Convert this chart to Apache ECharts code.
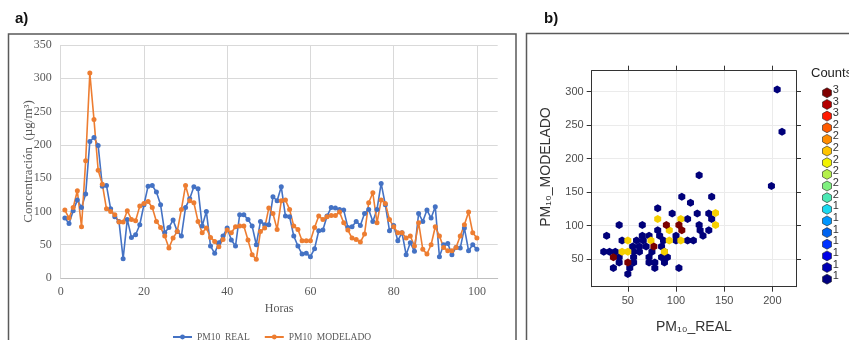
<!DOCTYPE html>
<html>
<head>
<meta charset="utf-8">
<script src="https://cdn.jsdelivr.net/npm/echarts@6/dist/echarts.min.js"></script>
<style>
    html, body {margin: 0; padding: 0; background: #fff;}
    #main {width: 849px; height: 340px;}
</style>
</head>
<body>
<div id="main"></div>
<script>
// panel a) hourly series (hour = index + 1)
var pm10Real = [90, 82, 101, 117, 106, 126, 205, 211, 199, 138,
    139, 104, 92, 85, 29, 88, 61, 65, 80, 110,
    138, 139, 129, 110, 68, 76, 87, 70, 63, 106,
    119, 137, 134, 78, 100, 48, 37, 53, 63, 75,
    57, 48, 95, 95, 88, 78, 50, 85, 80, 80,
    122, 116, 137, 93, 92, 63, 48, 36, 37, 32,
    44, 71, 72, 93, 106, 105, 103, 102, 76, 77,
    85, 79, 97, 103, 85, 103, 142, 110, 71, 79,
    56, 68, 35, 53, 40, 97, 85, 102, 90, 107,
    32, 50, 52, 35, 46, 45, 75, 41, 50, 43];
var pm10Modelado = [102, 90, 106, 131, 77, 176, 308, 238, 162, 141,
    104, 100, 95, 84, 84, 101, 88, 86, 108, 112,
    115, 106, 85, 76, 63, 45, 60, 70, 103, 139,
    116, 113, 85, 68, 75, 61, 55, 47, 58, 72,
    68, 77, 78, 78, 57, 35, 28, 70, 75, 105,
    97, 73, 116, 117, 103, 78, 73, 56, 56, 56,
    76, 93, 88, 92, 94, 94, 99, 83, 72, 60,
    58, 54, 66, 113, 128, 83, 117, 112, 88, 77,
    68, 68, 60, 63, 48, 83, 43, 36, 50, 77,
    63, 46, 41, 41, 46, 63, 80, 99, 68, 60];
var hourTicks = [0, 20, 40, 60, 80, 100];

// panel b) hexbin cells: [PM10_REAL, PM10_MODELADO, count]
var hexCells = [
    [124, 175, 1], [199, 159, 1], [106, 143, 1], [137, 143, 1], [115, 134, 1], [81, 126, 1],
    [96, 118, 1], [122, 118, 1], [134, 118, 1], [112, 110, 1], [137, 110, 1], [41, 101, 1],
    [65, 101, 1], [124, 101, 1], [81, 93, 1], [125, 93, 1], [134, 93, 1], [28, 85, 1],
    [65, 85, 1], [72, 85, 1], [83, 85, 1], [100, 85, 1], [128, 85, 1], [44, 78, 1],
    [59, 78, 1], [66, 78, 1], [87, 78, 1], [100, 78, 1], [112, 78, 1], [118, 78, 1],
    [55, 69, 1], [62, 69, 1], [69, 69, 1], [85, 69, 1], [25, 61, 1], [31, 61, 1],
    [37, 61, 1], [56, 61, 1], [62, 61, 1], [75, 61, 1], [88, 61, 1], [41, 53, 1],
    [56, 53, 1], [72, 53, 1], [85, 53, 1], [91, 53, 1], [41, 45, 1], [56, 45, 1],
    [72, 45, 1], [78, 45, 1], [88, 45, 1], [35, 37, 1], [52, 37, 1], [78, 37, 1],
    [103, 37, 1], [50, 28, 1], [205, 303, 1], [210, 240, 1],
    [141, 119, 2], [81, 110, 2], [105, 110, 2], [141, 101, 2], [93, 93, 2], [50, 78, 2],
    [74, 78, 2], [93, 78, 2], [105, 78, 2], [44, 61, 2], [50, 61, 2], [88, 61, 2],
    [90, 101, 3], [103, 101, 3], [106, 93, 3], [77, 69, 3], [35, 53, 3], [50, 45, 3]
];
var hexColors = {1: '#00007a', 2: '#f5cf00', 3: '#7a0000'};
var realTicks = [50, 100, 150, 200];
var modTicks = [50, 100, 150, 200, 250, 300];

// Counts key
var countLabels = ['3', '3', '3', '2', '2', '2', '2', '2', '2', '2', '1', '1', '1', '1', '1', '1', '1'];
var countColors = ['#7f0000', '#b30000', '#ff1a00', '#ff5a00', '#ff8c00', '#ffc400', '#f2f200', '#b4f04b',
    '#7ff07f', '#4be8b4', '#1ad9f0', '#0096ff', '#0064f0', '#0032ff', '#0000e6', '#0000b4', '#000080'];

var hexPath = 'path://M0,-1L0.866,-0.5L0.866,0.5L0,1L-0.866,0.5L-0.866,-0.5Z';

var chart = echarts.init(document.getElementById('main'), null, {renderer: 'canvas'});

var serif = "'Liberation Serif', 'Times New Roman', serif";
var sans = "'Liberation Sans', Arial, sans-serif";

var realPoints = pm10Real.map(function (v, i) { return [i + 1, v]; });
var modPoints = pm10Modelado.map(function (v, i) { return [i + 1, v]; });

var keyPoints = countLabels.map(function (l, i) { return [0, i, l]; });

chart.setOption({
    animation: false,
    backgroundColor: '#fff',
    graphic: [
        {type: 'rect', shape: {x: 8.5, y: 34, width: 507.5, height: 330}, style: {fill: 'none', stroke: '#5a5a5a', lineWidth: 1.5}},
        {type: 'rect', shape: {x: 526.5, y: 33.5, width: 340, height: 330}, style: {fill: 'none', stroke: '#5a5a5a', lineWidth: 1.5}},
        {type: 'text', left: 15, top: 11, style: {text: 'a)', font: 'bold 15px ' + sans, fill: '#111'}},
        {type: 'text', left: 544, top: 11, style: {text: 'b)', font: 'bold 15px ' + sans, fill: '#111'}},
        {type: 'text', left: 811, top: 67, style: {text: 'Counts', font: '13px ' + sans, fill: '#222'}},
        {type: 'text', x: 546, y: 167, rotation: Math.PI / 2,
            style: {text: 'PM₁₀_MODELADO', font: '14px ' + sans, fill: '#333', align: 'center', verticalAlign: 'middle'}}
    ],
    legend: {
        data: ['PM10_REAL', 'PM10_MODELADO'],
        left: 167, top: 325,
        itemWidth: 19, itemHeight: 6, itemGap: 14,
        textStyle: {fontFamily: serif, fontSize: 9.5, lineHeight: 14, color: '#595959'}
    },
    grid: [
        {left: 60.7, top: 45, width: 437, height: 233},
        {left: 591.7, top: 70.7, width: 204.3, height: 216, show: false},
        {left: 816, top: 87, width: 22, height: 198}
    ],
    xAxis: [
        {
            gridIndex: 0, type: 'value', min: 0, max: 105,
            name: 'Horas', nameLocation: 'middle', nameGap: 23,
            nameTextStyle: {fontFamily: serif, fontSize: 12, color: '#595959'},
            axisLine: {show: true, lineStyle: {color: '#bfbfbf'}},
            axisTick: {show: false, customValues: hourTicks},
            axisLabel: {customValues: hourTicks, fontFamily: serif, fontSize: 12, color: '#595959', margin: 8},
            splitLine: {show: true, lineStyle: {color: '#d9d9d9'}}
        },
        {
            gridIndex: 1, type: 'value', min: 12.5, max: 224.5, position: 'bottom',
            name: 'PM₁₀_REAL', nameLocation: 'middle', nameGap: 33,
            nameTextStyle: {fontFamily: sans, fontSize: 14, color: '#333'},
            axisLine: {show: true, onZero: false, lineStyle: {color: '#333'}},
            axisTick: {show: true, inside: false, length: 5, customValues: realTicks, lineStyle: {color: '#333'}},
            axisLabel: {customValues: realTicks, fontFamily: sans, fontSize: 11, color: '#4d4d4d', margin: 9},
            splitLine: {show: true, lineStyle: {color: '#ebebeb'}}
        },
        {
            gridIndex: 1, type: 'value', min: 12.5, max: 224.5, position: 'top',
            axisLine: {show: true, onZero: false, lineStyle: {color: '#333'}},
            axisTick: {show: true, inside: false, length: 5, customValues: realTicks, lineStyle: {color: '#333', width: 1}},
            axisLabel: {show: false, customValues: realTicks},
            splitLine: {show: false}
        },
        {gridIndex: 2, type: 'value', min: -1, max: 1, show: false}
    ],
    yAxis: [
        {
            gridIndex: 0, type: 'value', min: 0, max: 350, interval: 50,
            name: 'Concentración  (µg/m³)', nameLocation: 'middle', nameGap: 26,
            nameMoveOverlap: false,
            nameTextStyle: {fontFamily: serif, fontSize: 13, color: '#595959'},
            axisLine: {show: false},
            axisTick: {show: false},
            axisLabel: {fontFamily: serif, fontSize: 12, color: '#595959', margin: 9},
            splitLine: {show: true, lineStyle: {color: '#d9d9d9'}}
        },
        {
            gridIndex: 1, type: 'value', min: 9, max: 331, position: 'left',
            axisLine: {show: true, onZero: false, lineStyle: {color: '#333'}},
            axisTick: {show: true, inside: false, length: 5, customValues: modTicks, lineStyle: {color: '#333'}},
            axisLabel: {customValues: modTicks, fontFamily: sans, fontSize: 11, color: '#4d4d4d', margin: 8},
            splitLine: {show: true, lineStyle: {color: '#ebebeb'}}
        },
        {
            gridIndex: 1, type: 'value', min: 9, max: 331, position: 'right',
            axisLine: {show: true, onZero: false, lineStyle: {color: '#333'}},
            axisTick: {show: true, inside: false, length: 5, customValues: modTicks, lineStyle: {color: '#333'}},
            axisLabel: {show: false, customValues: modTicks},
            splitLine: {show: false}
        },
        {gridIndex: 2, type: 'value', min: -0.5, max: countLabels.length - 0.5, inverse: true, show: false}
    ],
    series: [
        {
            name: 'PM10_REAL', type: 'line', xAxisIndex: 0, yAxisIndex: 0,
            data: realPoints, symbol: 'circle', symbolSize: 5,
            itemStyle: {color: '#4472c4'}, lineStyle: {color: '#4472c4', width: 1.6}
        },
        {
            name: 'PM10_MODELADO', type: 'line', xAxisIndex: 0, yAxisIndex: 0,
            data: modPoints, symbol: 'circle', symbolSize: 5,
            itemStyle: {color: '#ed7d31'}, lineStyle: {color: '#ed7d31', width: 1.6}
        },
        {
            name: 'hexbin', type: 'scatter', xAxisIndex: 1, yAxisIndex: 1,
            data: hexCells, symbol: hexPath, symbolSize: [7, 8],
            itemStyle: {
                opacity: 1,
                color: function (p) { return hexColors[p.data[2]]; }
            }
        },
        {
            name: 'counts', type: 'scatter', xAxisIndex: 3, yAxisIndex: 3,
            data: keyPoints, symbol: hexPath, symbolSize: [9, 10],
            itemStyle: {
                opacity: 1,
                color: function (p) { return countColors[p.dataIndex]; },
                borderColor: '#222', borderWidth: 0.6
            },
            label: {
                show: true, position: 'right', distance: 1, offset: [0, -3],
                formatter: function (p) { return p.data[2]; },
                fontFamily: sans, fontSize: 11, color: '#333'
            }
        }
    ]
});
</script>
</body>
</html>
